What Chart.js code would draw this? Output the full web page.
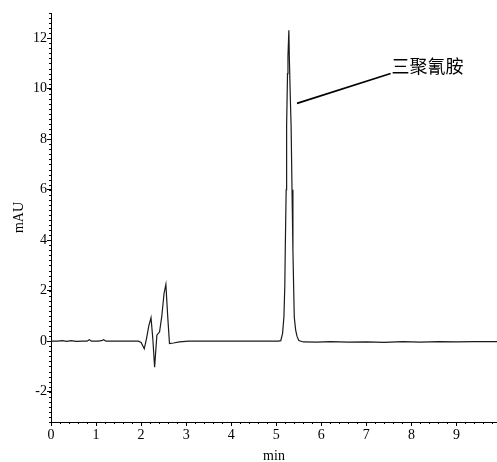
<!DOCTYPE html>
<html>
<head>
<meta charset="utf-8">
<script src="https://cdn.jsdelivr.net/npm/chart.js@4.4.0/dist/chart.umd.min.js"></script>
<style>
  html, body { margin: 0; padding: 0; background: #fff; }
  #wrap { width: 497px; height: 462px; position: relative; }
</style>
</head>
<body>
<div id="wrap"><canvas id="chart1"></canvas></div>
<script>
// 保留时间 / min
var times = [0, 0.15, 0.25, 0.35, 0.45, 0.55, 0.7, 0.8, 0.85, 0.9, 1.05, 1.12, 1.17, 1.22, 1.4, 1.7, 1.94,
    2.0, 2.07, 2.12, 2.17, 2.22, 2.26, 2.30, 2.35, 2.41, 2.46, 2.51, 2.55, 2.59, 2.63, 2.72, 2.85, 3.05,
    3.5, 4.0, 4.5, 4.9, 5.05, 5.10, 5.14, 5.17, 5.19, 5.20, 5.22, 5.23, 5.25, 5.26, 5.28, 5.29, 5.31,
    5.33, 5.35, 5.37, 5.39, 5.40, 5.43, 5.46, 5.50, 5.6, 5.9, 6.2, 6.6, 7.0, 7.4, 7.8, 8.2, 8.6, 9.0, 9.4, 9.9];
// 信号 / mAU
var signal = [0, 0, 0.02, -0.01, 0.02, -0.01, 0, 0, 0.06, 0, 0, 0.02, 0.06, 0, 0, 0, 0,
    -0.05, -0.3, 0.1, 0.6, 0.93, 0.1, -1.03, 0.24, 0.37, 1.0, 1.9, 2.25, 1.0, -0.09, -0.07, -0.03, 0,
    0, 0, 0, 0, 0, 0.02, 0.3, 0.96, 2.2, 3.6, 6.0, 8.5, 10.6, 11.3, 12.32, 11.3, 9.8,
    8.5, 6.0, 3.6, 1.8, 0.96, 0.45, 0.2, 0.03, -0.03, -0.04, -0.02, -0.04, -0.03, -0.05, -0.02, -0.04, -0.02, -0.03, -0.02, -0.02];

var xTicks = [0, 1, 2, 3, 4, 5, 6, 7, 8, 9];
var yTicks = [-2, 0, 2, 4, 6, 8, 10, 12];
var xRange = [0, 9.9];
var yRange = [-3.2, 13];

// 标注: 三聚氰胺
var labelText = '三聚氰胺';
var labelFrom = [5.46, 9.42];
var labelTo = [7.54, 10.6];
var labelPos = [7.56, 10.9];

var points = [];
for (var i = 0; i < times.length; i++) {
    points.push({ x: times[i], y: signal[i] });
}

var serif = '"Liberation Serif", "Times New Roman", serif';

// 次刻度 + 标注
var extras = {
    id: 'extras',
    afterDraw: function (chart) {
        var ctx = chart.ctx;
        var xs = chart.scales.x, ys = chart.scales.y;
        var area = chart.chartArea;
        ctx.save();
        ctx.strokeStyle = '#000';
        ctx.lineWidth = 1;
        ctx.beginPath();
        for (var k = 0; k <= 49; k++) {
            var px = Math.round(xs.getPixelForValue(k * 0.2)) + 0.5;
            ctx.moveTo(px, area.bottom);
            ctx.lineTo(px, area.bottom + 2);
        }
        for (var j = -16; j <= 65; j++) {
            var py = Math.round(ys.getPixelForValue(j * 0.2)) + 0.5;
            ctx.moveTo(area.left, py);
            ctx.lineTo(area.left - 2, py);
        }
        ctx.stroke();

        ctx.lineWidth = 1.6;
        ctx.beginPath();
        ctx.moveTo(xs.getPixelForValue(labelFrom[0]), ys.getPixelForValue(labelFrom[1]));
        ctx.lineTo(xs.getPixelForValue(labelTo[0]), ys.getPixelForValue(labelTo[1]));
        ctx.stroke();

        ctx.fillStyle = '#000';
        ctx.font = '18px "Noto Sans CJK SC", sans-serif';
        ctx.textAlign = 'left';
        ctx.textBaseline = 'middle';
        ctx.fillText(labelText, xs.getPixelForValue(labelPos[0]), ys.getPixelForValue(labelPos[1]));
        ctx.restore();
    }
};

const chart1 = new Chart(document.getElementById('chart1'), {
    type: 'scatter',
    data: {
        datasets: [{
            data: points,
            showLine: true,
            borderColor: '#1a1a1a',
            borderWidth: 1.2,
            pointRadius: 0,
            tension: 0
        }]
    },
    options: {
        responsive: true,
        maintainAspectRatio: false,
        animation: false,
        layout: { padding: { top: 13, right: 0, left: 0, bottom: 0 } },
        plugins: { legend: { display: false }, tooltip: { enabled: false } },
        scales: {
            x: {
                type: 'linear',
                min: xRange[0],
                max: xRange[1],
                afterFit: function (s) { s.height = 40; },
                afterBuildTicks: function (s) { s.ticks = xTicks.map(function (v) { return { value: v }; }); },
                grid: { display: true, drawOnChartArea: false, drawTicks: true, tickLength: 4, color: '#000' },
                border: { display: true, color: '#000', width: 1 },
                ticks: { color: '#000', padding: 1, font: { family: serif, size: 14 }, maxRotation: 0 },
                title: { display: true, text: 'min', color: '#000', padding: { top: 0, bottom: -3 }, font: { family: serif, size: 14 } }
            },
            y: {
                type: 'linear',
                min: yRange[0],
                max: yRange[1],
                afterFit: function (s) { s.width = 51; },
                afterBuildTicks: function (s) { s.ticks = yTicks.map(function (v) { return { value: v }; }); },
                grid: { display: true, drawOnChartArea: false, drawTicks: true, tickLength: 4, color: '#000' },
                border: { display: true, color: '#000', width: 1 },
                ticks: { color: '#000', padding: 0, font: { family: serif, size: 14 } },
                title: { display: true, text: 'mAU', color: '#000', padding: { top: 11, bottom: 0 }, font: { family: serif, size: 14 } }
            }
        }
    },
    plugins: [extras]
});
</script>
</body>
</html>
